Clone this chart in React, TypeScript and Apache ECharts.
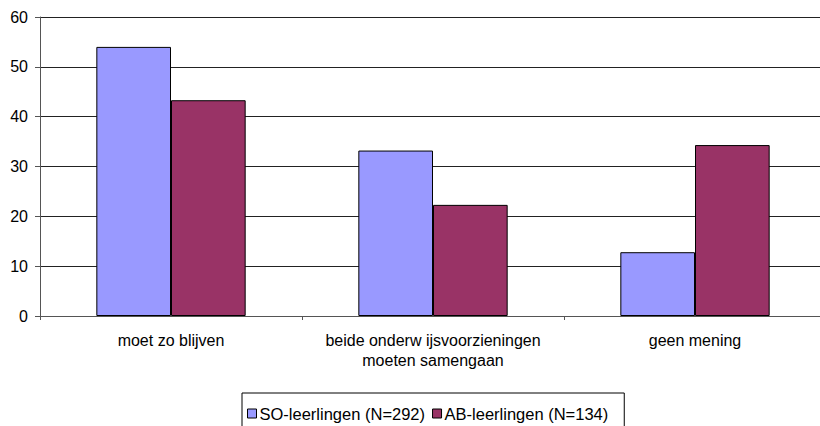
import React, { useEffect, useRef } from "react";
import * as echarts from "echarts";

const categories = [
  "moet zo blijven",
  "beide onderw ijsvoorzieningen\nmoeten samengaan",
  "geen mening",
];
const seriesNames = ["SO-leerlingen (N=292)", "AB-leerlingen (N=134)"];
const soValues = [54.0, 33.2, 12.8];
const abValues = [43.3, 22.3, 34.3];
const yTicks = { min: 0, max: 60, interval: 10 };

const FONT = "Liberation Sans";

export default function App() {
  const ref = useRef<HTMLDivElement>(null);
  useEffect(() => {
    if (!ref.current) return;
    const chart = echarts.init(ref.current, null, { renderer: "svg" });
    chart.setOption({
      animation: false,
      backgroundColor: "#ffffff",
      textStyle: { fontFamily: FONT },
      grid: { left: 40, right: 0, top: 17, bottom: 110, containLabel: false },
      legend: {
        data: seriesNames,
        left: 242,
        top: 393,
        orient: "horizontal",
        icon: "rect",
        itemWidth: 9,
        itemHeight: 9,
        itemGap: 7,
        padding: [12, 16, 12, 5],
        borderColor: "#000",
        borderWidth: 1,
        itemStyle: { borderColor: "#000", borderWidth: 1 },
        textStyle: {
          fontFamily: FONT,
          fontSize: 16.5,
          color: "#000",
          padding: [0, 0, 0, -2],
        },
      },
      xAxis: {
        type: "category",
        data: categories,
        boundaryGap: true,
        axisLine: { show: true, lineStyle: { color: "#555", width: 1 } },
        axisTick: { show: true, alignWithLabel: false, length: 4, lineStyle: { color: "#555" } },
        axisLabel: {
          interval: 0,
          fontFamily: FONT,
          fontSize: 16,
          lineHeight: 20,
          color: "#000",
          margin: 14,
        },
        splitLine: { show: false },
      },
      yAxis: {
        type: "value",
        min: yTicks.min,
        max: yTicks.max,
        interval: yTicks.interval,
        axisLine: { show: true, lineStyle: { color: "#555", width: 1 } },
        axisTick: { show: true, length: 5, lineStyle: { color: "#555" } },
        axisLabel: { fontFamily: FONT, fontSize: 16, color: "#000", margin: 12 },
        splitLine: { show: true, lineStyle: { color: "#222", width: 1 } },
      },
      series: [
        {
          name: seriesNames[0],
          type: "bar",
          data: soValues,
          barGap: "0%",
          barCategoryGap: "43%",
          itemStyle: { color: "#9999FF", borderColor: "#000", borderWidth: 1 },
        },
        {
          name: seriesNames[1],
          type: "bar",
          data: abValues,
          barGap: "0%",
          barCategoryGap: "43%",
          itemStyle: { color: "#993366", borderColor: "#000", borderWidth: 1 },
        },
      ],
    });
    return () => chart.dispose();
  }, []);
  return (
    <div
      style={{
        position: "fixed",
        left: 0,
        top: 0,
        width: 820,
        height: 426,
        overflow: "hidden",
        background: "#fff",
      }}
    >
      <div ref={ref} style={{ width: 826, height: 426 }} />
    </div>
  );
}
